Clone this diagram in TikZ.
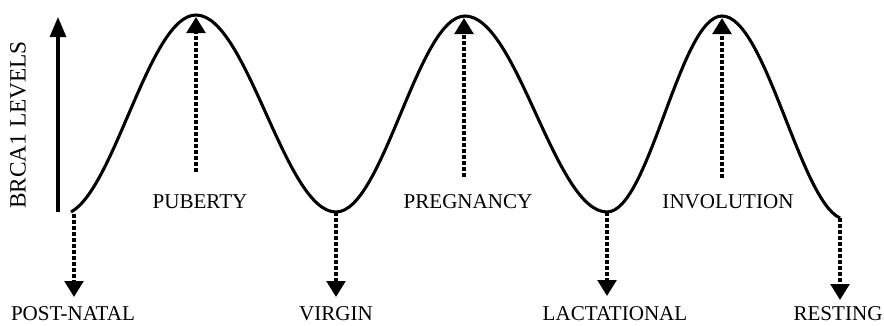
\documentclass[tikz,border=0pt]{standalone}
\usepackage{fontspec}
\setmainfont{Liberation Serif}
\usetikzlibrary{arrows.meta}

\tikzset{
  stagelabel/.style={inner sep=0.75pt, font=\fontsize{15.8}{18}\selectfont},
  levelarrow/.style={line width=2.6pt, dash pattern=on 3pt off 1.5pt, -{Triangle[width=14pt,length=12pt]}},
  axisarrow/.style={-{Triangle[width=12pt,length=15pt]}}
}

\begin{document}
\begin{tikzpicture}[x=0.75pt,y=0.75pt,yscale=-1,xscale=1,line width=2.3pt]
\useasboundingbox (0,0) rectangle (884,325);

% Curve points
\coordinate (c0) at (71,212);
\coordinate (pk1) at (196,15);
\coordinate (tr1) at (336,212);
\coordinate (pk2) at (465,16);
\coordinate (tr2) at (607,212);
\coordinate (pk3) at (722,16);
\coordinate (c6) at (840,218);

%Curve
\draw (c0) .. controls (115,188) and (150,15) .. (pk1)
  .. controls (247,15) and (285,212) .. (tr1)
  .. controls (383,212) and (418,16) .. (pk2)
  .. controls (517,16) and (555,212) .. (tr2)
  .. controls (649,212) and (680,16) .. (pk3)
  .. controls (765,16) and (800,200) .. (c6);

%Axis arrow
\coordinate (axlo) at (58,212);
\coordinate (axhi) at (58,17);
\draw [axisarrow] (axlo) -- (axhi);

% Text Node
\node (axis) [inner sep=0.75pt, rotate=90, font=\fontsize{17.5}{20}\selectfont] at (18,125) {BRCA1 LEVELS};

% Text Node
\node (puberty) [stagelabel] at (200,202) {PUBERTY};
% Text Node
\node (pregnancy) [stagelabel] at (468,202) {PREGNANCY};
% Text Node
\node (involution) [stagelabel] at (728,202) {INVOLUTION};
% Text Node
\node (postnatal) [stagelabel] at (73,314) {POST-NATAL};
% Text Node
\node (virgin) [stagelabel] at (336,314) {VIRGIN};
% Text Node
\node (lactational) [stagelabel] at (615,314) {LACTATIONAL};
% Text Node
\node (resting) [stagelabel] at (838,314) {RESTING};

%Up arrows
\coordinate (up1) at (196,172);
\coordinate (up2) at (464,177);
\coordinate (up3) at (722,178);
\draw [levelarrow] (up1) -- (196,17);
\draw [levelarrow] (up2) -- (464,18);
\draw [levelarrow] (up3) -- (722,18);

%Down arrows
\draw [levelarrow] (74,214) -- (74,297);
\draw [levelarrow] (tr1) -- (336,297);
\draw [levelarrow] (tr2) -- (607,296);
\draw [levelarrow] (c6) -- (840,300);

\end{tikzpicture}
\end{document}
